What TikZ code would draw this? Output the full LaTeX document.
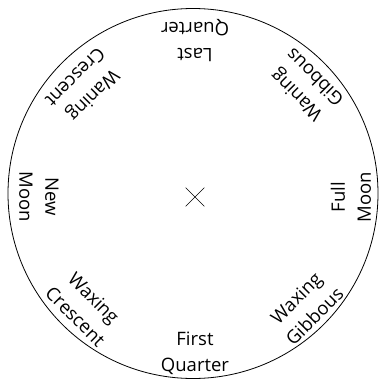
\documentclass[tikz,border=0pt]{standalone}
\usepackage{fontspec}
\setmainfont{Open Sans}
\usetikzlibrary{shapes.misc}
\begin{document}
\begin{tikzpicture}[x=1pt,y=1pt,font=\fontsize{18.5}{26}\selectfont]
\def\rwheel{185}
\def\rtext{156}
\useasboundingbox (-193,-187.5) rectangle (190,193.5);
\draw[line width=0.8pt] (0,0) circle (\rwheel);
\node[cross out, draw, line width=0.6pt, minimum size=18pt, inner sep=0pt] (hub) at (2,-3.5) {};

\foreach \name/\ang/\i in {
First\\Quarter/-90/1,
Waxing\\Gibbous/-45/2,
Full\\Moon/0/3,
Waning\\Gibbous/45/4,
Last\\Quarter/90/5,
Waning\\Crescent/135/6,
New\\Moon/180/7,
Waxing\\Crescent/225/8
}{
  \node[align=center, rotate=\ang+90] (phase\i) at ([shift={(\ang:\rtext)}]hub) {\name};
}
\end{tikzpicture}
\end{document}
